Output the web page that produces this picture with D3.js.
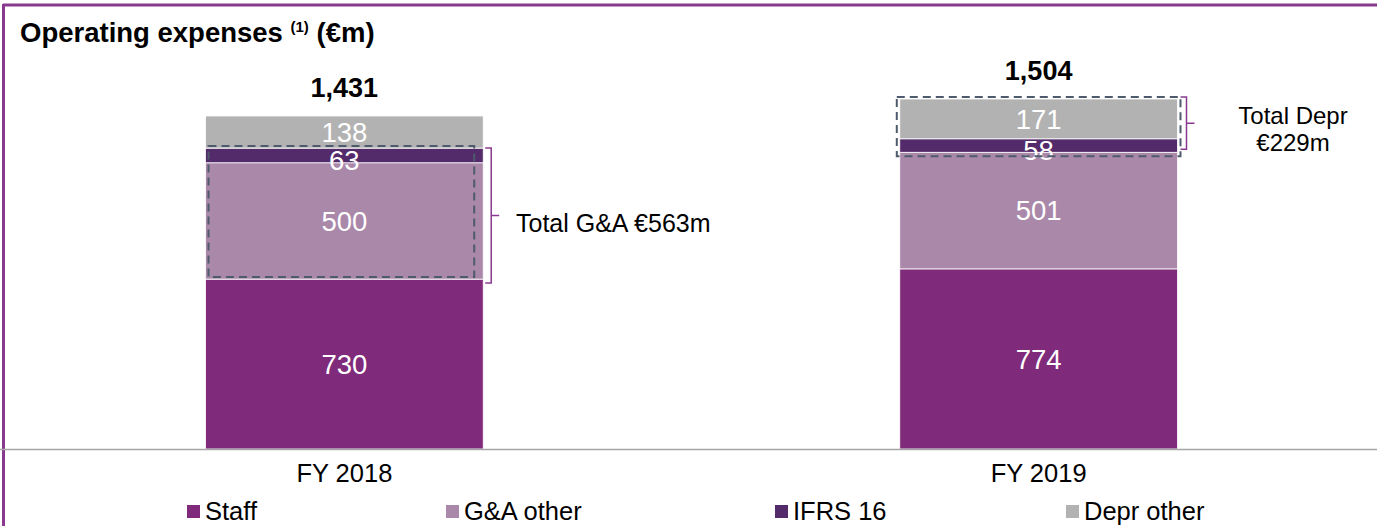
<!DOCTYPE html>
<html>
<head>
<meta charset="utf-8">
<script src="https://cdn.jsdelivr.net/npm/d3@7"></script>
<style>
  html, body { margin: 0; padding: 0; background: #fff; }
  svg { display: block; font-family: "Liberation Sans", Arial, sans-serif; }
</style>
</head>
<body>
<svg id="chart" width="1377" height="526"></svg>
<script>
// Operating expenses by component, €m
const categories = ["FY 2018", "FY 2019"];
const seriesNames = ["Staff", "G&A other", "IFRS 16", "Depr other"];
const staff = [730, 774];
const gaOther = [500, 501];
const ifrs16 = [63, 58];
const deprOther = [138, 171];
const totals = [1431, 1504];
const colors = ["#7F2A7A", "#AA88AA", "#532A6A", "#B2B2B2"];

const W = 1377, H = 526;
const svg = d3.select("#chart");

const rows = categories.map((c, i) => ({
  cat: c,
  "Staff": staff[i],
  "G&A other": gaOther[i],
  "IFRS 16": ifrs16[i],
  "Depr other": deprOther[i]
}));
const stacked = d3.stack().keys(seriesNames)(rows);

const x = d3.scaleBand().domain(categories).range([0, 1383])
  .paddingInner(0.6).paddingOuter(0.296);
const y = d3.scaleLinear().domain([0, d3.max(totals)]).range([449, 99]);
const color = d3.scaleOrdinal().domain(seriesNames).range(colors);

// Frame: purple rule on top and left
svg.append("line").attr("x1", 3).attr("x2", W).attr("y1", 5).attr("y2", 5)
  .attr("stroke", "#8A3A8E").attr("stroke-width", 3);
svg.append("line").attr("x1", 3.5).attr("x2", 3.5).attr("y1", 4).attr("y2", H)
  .attr("stroke", "#8A3A8E").attr("stroke-width", 3);

// Title
const title = svg.append("text").attr("x", 20).attr("y", 42)
  .attr("font-weight", "bold").attr("font-size", 27.5).attr("fill", "#000");
title.append("tspan").text("Operating expenses ");
title.append("tspan").attr("font-size", 15).attr("dy", -10).text("(1)");
title.append("tspan").attr("dy", 10).text(" (€m)");

// Stacked bars
const layers = svg.append("g").selectAll("g").data(stacked).join("g")
  .attr("fill", d => color(d.key));
layers.selectAll("rect").data(d => d).join("rect")
  .attr("x", d => x(d.data.cat))
  .attr("width", x.bandwidth())
  .attr("y", d => y(d[1]))
  .attr("height", d => y(d[0]) - y(d[1]))
  .attr("stroke", "#fff").attr("stroke-width", 0.8);

// Segment value labels (thin segments get their label nudged downward)
layers.selectAll("text").data(d => d).join("text")
  .attr("x", d => x(d.data.cat) + x.bandwidth() / 2)
  .attr("y", d => {
    const mid = (y(d[0]) + y(d[1])) / 2;
    return (y(d[0]) - y(d[1])) < 20 ? mid + 5 : mid;
  })
  .attr("dy", "0.36em")
  .attr("text-anchor", "middle")
  .attr("font-size", 27.5)
  .attr("fill", "#fff")
  .text(d => d[1] - d[0]);

// Axis baseline
svg.append("line").attr("x1", 0).attr("x2", W).attr("y1", 449.5).attr("y2", 449.5)
  .attr("stroke", "#A6A6A6").attr("stroke-width", 1.5);

// Category labels
svg.append("g").selectAll("text").data(categories).join("text")
  .attr("x", d => x(d) + x.bandwidth() / 2)
  .attr("y", 482)
  .attr("text-anchor", "middle")
  .attr("font-size", 25.5)
  .attr("fill", "#000")
  .text(d => d);

// Totals above the bars
svg.append("g").selectAll("text").data(totals).join("text")
  .attr("x", (d, i) => x(categories[i]) + x.bandwidth() / 2)
  .attr("y", d => y(d) - 19)
  .attr("text-anchor", "middle")
  .attr("font-size", 27)
  .attr("font-weight", "bold")
  .attr("fill", "#000")
  .text(d => d3.format(",")(d));

// Dashed highlight boxes and brackets
const dash = "#4E5B6C", bracketColor = "#8A3A8E";
function bracket(xPos, yTop, yBot, tick) {
  svg.append("path")
    .attr("d", `M${xPos - 6},${yTop} H${xPos} V${yBot} H${xPos - 6} M${xPos},${(yTop + yBot) / 2} H${xPos + tick}`)
    .attr("fill", "none").attr("stroke", bracketColor).attr("stroke-width", 1.5);
}

// FY 2018: G&A total (G&A other + IFRS 16)
{
  const c = categories[0];
  const lo = staff[0], hi = staff[0] + gaOther[0] + ifrs16[0];
  svg.append("rect")
    .attr("x", x(c) + 3).attr("width", x.bandwidth() - 12)
    .attr("y", y(hi) - 2).attr("height", y(lo) - y(hi) - 0)
    .attr("fill", "none").attr("stroke", dash).attr("stroke-width", 2)
    .attr("stroke-dasharray", "8,5");
  bracket(x(c) + x.bandwidth() + 8, y(hi), y(lo) + 4, 8);
  svg.append("text").attr("x", 516).attr("y", (y(hi) + y(lo)) / 2 + 18)
    .attr("font-size", 25).attr("fill", "#000").text("Total G&A €563m");
}

// FY 2019: depreciation total (IFRS 16 + Depr other)
{
  const c = categories[1];
  const lo = staff[1] + gaOther[1], hi = totals[1];
  svg.append("rect")
    .attr("x", x(c) - 3).attr("width", x.bandwidth() + 6)
    .attr("y", y(hi) - 2).attr("height", y(lo) - y(hi) + 6)
    .attr("fill", "none").attr("stroke", dash).attr("stroke-width", 2)
    .attr("stroke-dasharray", "8,5");
  bracket(x(c) + x.bandwidth() + 9, y(hi) - 2, y(lo) - 3, 8);
  const t = svg.append("text").attr("x", 1293).attr("y", 124)
    .attr("text-anchor", "middle").attr("font-size", 24).attr("fill", "#000");
  t.append("tspan").attr("x", 1293).text("Total Depr");
  t.append("tspan").attr("x", 1293).attr("dy", 27).text("€229m");
}

// Legend
const legendX = [187, 446, 775, 1066];
const lg = svg.append("g").selectAll("g").data(seriesNames).join("g")
  .attr("transform", (d, i) => `translate(${legendX[i]},0)`);
lg.append("rect").attr("x", 0).attr("y", 505).attr("width", 13).attr("height", 13)
  .attr("fill", d => color(d));
lg.append("text").attr("x", 18).attr("y", 520).attr("font-size", 25.5)
  .attr("fill", "#000").text(d => d);
</script>
</body>
</html>
